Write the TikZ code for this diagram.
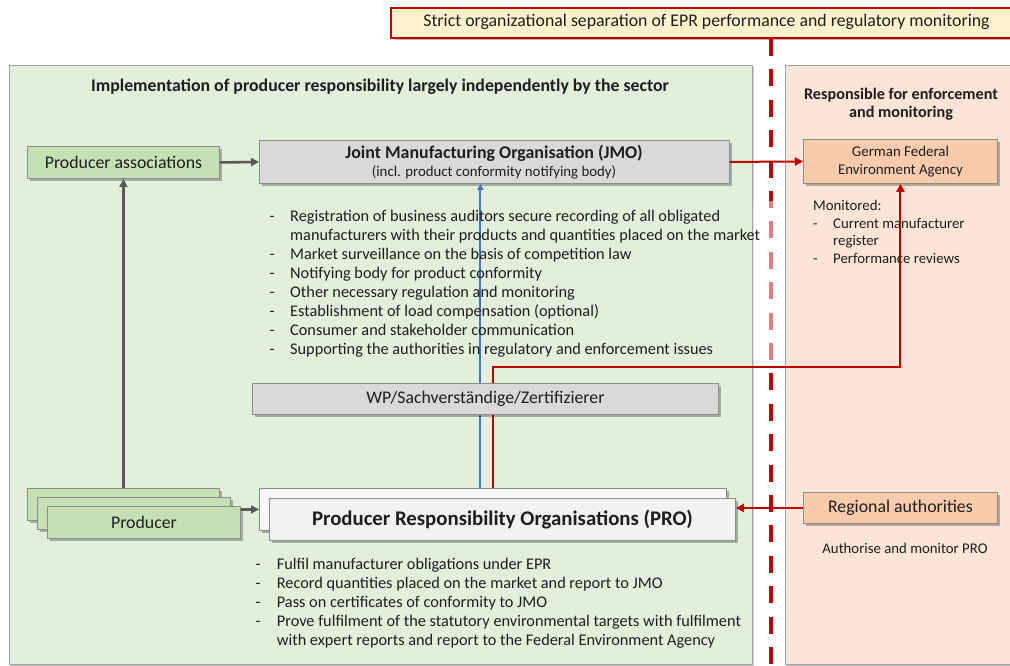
\documentclass[tikz,border=0pt]{standalone}
\usepackage{fontspec}
\setmainfont{Carlito}
\usetikzlibrary{arrows.meta,shadows}
\definecolor{panelG}{HTML}{E2EFDA}
\definecolor{panelO}{HTML}{FBE5D6}
\definecolor{boxG}{HTML}{C5E0B4}
\definecolor{boxGr}{HTML}{D9D9D9}
\definecolor{boxW}{HTML}{F2F2F2}
\definecolor{boxO}{HTML}{F8CBAD}
\definecolor{bannerY}{HTML}{FFF2CC}
\definecolor{darkred}{HTML}{C00000}
\definecolor{lineblue}{HTML}{4472C4}
\definecolor{edgegray}{HTML}{8C8C8C}
\definecolor{arrgray}{HTML}{595959}
\definecolor{txt}{HTML}{1E1E1E}
\tikzset{
  shad/.style={drop shadow={shadow xshift=2.5pt,shadow yshift=-2.5pt,opacity=0.28,fill=black}},
  panel/.style={draw=edgegray!80,line width=0.8pt,inner sep=0pt,anchor=north west,
     drop shadow={shadow xshift=2pt,shadow yshift=-2pt,opacity=0.2,fill=black}},
  box/.style={draw=edgegray,line width=0.9pt,shad,inner sep=0pt,anchor=north west,text=txt},
  garrow/.style={draw=arrgray,line width=2.6pt,-{Triangle[length=8pt,width=8pt]}},
  rarrow/.style={draw=darkred,line width=2pt,-{Triangle[length=8pt,width=8pt]}},
  barrow/.style={draw=lineblue,line width=2pt,-{Triangle[length=6pt,width=6pt]}},
  fbig/.style={font=\fontsize{17.8}{21}\selectfont,text=txt},
  fsmall/.style={font=\fontsize{14.8}{17.5}\selectfont,text=txt},
  listnode/.style={anchor=north west,inner sep=0pt,text=txt},
}
\begin{document}
\begin{tikzpicture}[x=1pt,y=-1pt]
\useasboundingbox (0,0) rectangle (1010,666);
\fill[white] (0,0) rectangle (1010,666);
% panels
\node[panel,fill=panelG,minimum width=743pt,minimum height=599pt] (leftpanel) at (9,65) {};
\node[panel,fill=panelO,minimum width=240pt,minimum height=599pt] (rightpanel) at (785,65) {};
% banner
\node[anchor=north west,draw=darkred,line width=2pt,fill=bannerY,shad,minimum width=633pt,minimum height=30pt,inner sep=0pt] (banner) at (390,7) {};
\node[font=\fontsize{17.8}{20}\selectfont,text=txt] (bannertext) at (706.5,22) {Strict organizational separation of EPR performance and regulatory monitoring};
% separator
\coordinate (sepend) at (771,666);
\draw[darkred,line width=4.6pt,dash pattern=on 17pt off 13.4pt] (banner.south -| sepend) -- (sepend);
\fill[white,opacity=0.5] (753,201) rectangle (775,365);
% titles
\node[font=\fontsize{17.8}{20}\selectfont\bfseries,text=txt] (lefttitle) at (380,87) {Implementation of producer responsibility largely independently by the sector};
\node[font=\fontsize{16.2}{18}\selectfont\bfseries,text=txt,align=center] (righttitle) at (901,104) {Responsible for enforcement\\and monitoring};
% boxes
\node[box,fill=boxG,minimum width=192pt,minimum height=32pt,fbig] (pa) at (27,146) {Producer associations};
\node[box,fill=boxGr,minimum width=470pt,minimum height=43pt] (jmo) at (259,140) {};
\node[anchor=base,inner sep=0pt,font=\fontsize{17.9}{21}\selectfont\bfseries,text=txt] (jmotitle) at (494,158.8) {Joint Manufacturing Organisation (JMO)};
\node[anchor=base,inner sep=0pt,font=\fontsize{14.8}{17}\selectfont,text=txt] (jmosub) at (494,177) {(incl. product conformity notifying body)};
\node[box,fill=boxO,minimum width=194pt,minimum height=44pt,align=center,font=\fontsize{14.9}{18}\selectfont] (uba) at (803,139) {German Federal\\Environment Agency};
\node[box,fill=boxG,minimum width=192pt,minimum height=32pt] (prod1) at (27,488) {};
\node[box,fill=boxG,minimum width=193pt,minimum height=32pt] (prod2) at (37,497) {};
\node[box,fill=boxG,minimum width=193pt,minimum height=32pt,fbig] (prod3) at (47,506) {Producer};
\node[box,fill=boxW!60!white,minimum width=467pt,minimum height=42pt] (probk) at (259,488) {};
\node[box,fill=boxW,minimum width=466pt,minimum height=42pt,font=\fontsize{20.8}{24}\selectfont\bfseries] (profr) at (269,498) {Producer Responsibility Organisations (PRO)};
\node[box,fill=boxO,minimum width=194pt,minimum height=31pt,fbig] (reg) at (803,492) {Regional authorities};
\node[fsmall] (regtext) at (905,548) {Authorise and monitor PRO};
% connectors
\draw[garrow] (pa.east) -- (jmo.west);
\draw[garrow] (prod1.north -| pa.south) -- (pa.south);
\draw[garrow] (prod3.east |- probk.west) -- (probk.west);
\draw[rarrow] (jmo.east) -- (uba.west);
\draw[rarrow] (reg.west) -- (reg.west -| profr.east);
\coordinate (bluestart) at ([xshift=-12.5pt]probk.north);
\draw[barrow] (bluestart) -- (bluestart |- jmo.south);
\coordinate (redstart) at ([xshift=0.5pt]probk.north);
\coordinate (redjog) at (0,366.5);
\draw[rarrow] (redstart) -- (redstart |- redjog) -| (uba.south);
% WP box (on top of lines)
\node[box,fill=boxGr,minimum width=466pt,minimum height=31pt,fbig] (wp) at (252,383) {WP/Sachverständige/Zertifizierer};
% lists
\node[listnode,font=\fontsize{16.3}{19}\selectfont] (jmolist) at (269.5,208.2) {\begin{tabular}{@{}p{20.5pt}@{}l@{}}
-&Registration of business auditors secure recording of all obligated\\
&manufacturers with their products and quantities placed on the market\\
-&Market surveillance on the basis of competition law\\
-&Notifying body for product conformity\\
-&Other necessary regulation and monitoring\\
-&Establishment of load compensation (optional)\\
-&Consumer and stakeholder communication\\
-&Supporting the authorities in regulatory and enforcement issues
\end{tabular}};
\node[listnode,font=\fontsize{14.8}{17.5}\selectfont] (monlist) at (813,198.3) {\begin{tabular}{@{}p{20pt}@{}l@{}}
\multicolumn{2}{@{}l@{}}{Monitored:}\\
-&Current manufacturer\\
&register\\
-&Performance reviews
\end{tabular}};
\node[listnode,font=\fontsize{16.3}{19}\selectfont] (prolist) at (255.5,555.5) {\begin{tabular}{@{}p{21.2pt}@{}l@{}}
-&Fulfil manufacturer obligations under EPR\\
-&Record quantities placed on the market and report to JMO\\
-&Pass on certificates of conformity to JMO\\
-&Prove fulfilment of the statutory environmental targets with fulfilment\\
&with expert reports and report to the Federal Environment Agency
\end{tabular}};
\end{tikzpicture}
\end{document}
